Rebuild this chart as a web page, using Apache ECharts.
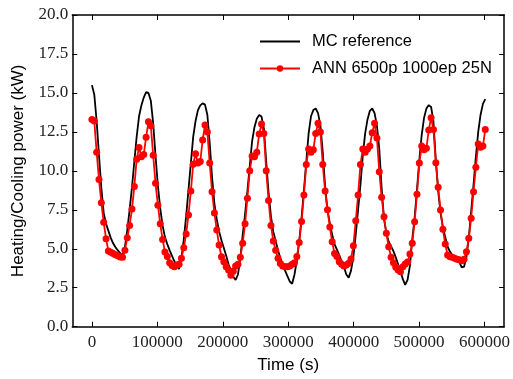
<!DOCTYPE html>
<html><head><meta charset="utf-8">
<script src="https://cdn.jsdelivr.net/npm/echarts@6/dist/echarts.min.js"></script>
<style>html,body{margin:0;padding:0;background:#fff}#c{width:513px;height:379px}</style>
</head><body><div id="c"></div>
<script>
// sampling step of both series (seconds)
const stepSeconds = 3600;

// MC reference (kW), hourly
const mcReference = [
  15.5, 14.9, 13.2, 11.0, 8.9, 7.3, 6.6, 6.15, 5.7, 5.35, 5.1, 4.9, 4.72, 4.58, 5.1, 6.2, 7.5, 8.95, 10.6, 12.2, 13.5, 14.2, 14.7, 15.05,
  15.0, 14.5, 13.06, 10.96, 9.06, 7.6, 6.5, 5.75, 5.3, 4.9, 4.55, 4.2, 3.9, 3.7, 4.4, 5.6, 7.1, 8.8, 10.5, 12.2, 13.2, 13.9, 14.2, 14.33,
  14.25, 13.6, 11.8, 9.6, 7.9, 6.9, 6.1, 5.55, 5.05, 4.55, 4.0, 3.6, 3.2, 3.0, 3.35, 4.4, 5.9, 7.2, 8.7, 10.3, 11.9, 12.8, 13.35, 13.58,
  13.48, 12.73, 10.6, 8.6, 7.1, 6.1, 5.5, 4.9, 4.39, 4.0, 3.6, 3.25, 2.9, 2.75, 3.35, 4.25, 5.5, 7.0, 8.75, 10.6, 12.4, 13.5, 13.9, 14.0,
  13.7, 12.9, 11.2, 9.0, 7.5, 6.65, 5.9, 5.3, 4.95, 4.6, 4.2, 3.85, 3.35, 3.15, 3.6, 4.5, 5.9, 7.5, 9.1, 11.0, 12.4, 13.3, 13.85, 14.0,
  13.7, 12.9, 11.4, 8.9, 6.9, 6.0, 5.45, 5.15, 4.85, 4.45, 4.0, 3.55, 3.05, 2.68, 3.0, 3.9, 5.6, 7.0, 8.8, 10.7, 12.3, 13.4, 14.0, 14.22,
  14.1, 13.15, 10.7, 8.7, 7.3, 6.4, 5.75, 5.13, 4.82, 4.6, 4.45, 4.3, 4.12, 3.8, 3.85, 4.5, 5.7, 7.4, 9.1, 10.9, 12.5, 13.6, 14.3, 14.6
];

// ANN prediction (kW), hourly
const annPrediction = [
  13.3, 13.2, 11.2, 9.45, 7.95, 6.7, 5.65, 4.85, 4.78, 4.7, 4.62, 4.55, 4.48, 4.45, 4.9, 5.7, 6.5, 7.55, 9.0, 10.75, 11.5, 10.9, 11.05, 12.15,
  13.15, 12.9, 11.0, 9.2, 7.8, 6.6, 5.6, 4.8, 4.5, 4.1, 3.92, 3.85, 3.96, 4.0, 4.4, 5.07, 5.95, 7.17, 8.71, 10.42, 11.1, 10.5, 10.6, 11.98,
  12.94, 12.5, 10.5, 8.66, 7.3, 6.2, 5.24, 4.49, 4.17, 3.85, 3.64, 3.3, 3.55, 3.9, 4.0, 4.45, 5.35, 6.6, 8.24, 10.0, 10.95, 10.9, 11.2, 12.36,
  13.0, 12.4, 10.0, 8.1, 6.5, 5.5, 4.9, 4.4, 4.05, 3.9, 3.85, 3.85, 3.9, 4.0, 4.1, 4.5, 5.4, 6.75, 8.45, 10.4, 11.4, 11.2, 11.35, 12.4,
  13.05, 12.5, 10.4, 8.7, 7.5, 6.4, 5.45, 4.7, 4.5, 4.17, 4.0, 3.9, 3.96, 4.07, 4.35, 5.2, 6.8, 8.45, 10.4, 11.4, 11.2, 11.4, 11.6, 12.45,
  13.05, 12.1, 9.95, 8.3, 7.06, 6.0, 5.13, 4.45, 4.11, 3.81, 3.64, 3.53, 3.85, 4.02, 4.15, 4.66, 5.35, 6.74, 8.5, 10.5, 11.6, 11.35, 11.45, 12.62,
  13.41, 12.66, 10.52, 8.94, 7.49, 6.25, 5.31, 4.6, 4.49, 4.45, 4.39, 4.32, 4.3, 4.23, 4.32, 4.81, 5.67, 6.96, 8.66, 10.23, 11.72, 11.51, 11.59, 12.66
];

const xTicks = [0, 100000, 200000, 300000, 400000, 500000, 600000];
const yTicks = [0, 2.5, 5, 7.5, 10, 12.5, 15, 17.5, 20];

const seriesNames = ['MC reference', 'ANN 6500p 1000ep 25N'];
const axisNames = { x: 'Time (s)', y: 'Heating/Cooling power (kW)' };

const toPairs = arr => arr.map((v, i) => [i * stepSeconds, v]);

const serif = 'Liberation Serif';
const sans = 'Liberation Sans';

const chart = echarts.init(document.getElementById('c'), null, { renderer: 'canvas' });

const tickStyle = { show: true, inside: true, length: 5, lineStyle: { color: '#000', width: 1 } };
const lineStyle = { show: true, onZero: false, lineStyle: { color: '#000', width: 1.5 } };

chart.setOption({
  animation: false,
  backgroundColor: '#fff',
  grid: { left: 72.3, top: 15, right: 5.5, bottom: 52.3, containLabel: false },
  legend: {
    data: [
      { name: seriesNames[0], icon: 'path://M0,0 L40,0 L40,2 L0,2 Z' },
      { name: seriesNames[1] }
    ],
    orient: 'vertical',
    left: 254,
    top: 28,
    itemWidth: 40,
    itemHeight: 8,
    itemGap: 10,
    symbolKeepAspect: true,
    textStyle: { fontFamily: sans, fontSize: 16.5, color: '#000', padding: [0, 0, 0, 7] }
  },
  xAxis: [
    {
      type: 'value', min: -30000, max: 630000, position: 'bottom',
      name: axisNames.x, nameLocation: 'middle', nameGap: 30,
      nameTextStyle: { fontFamily: sans, fontSize: 17, color: '#000' },
      axisLine: lineStyle,
      axisTick: Object.assign({}, tickStyle, { customValues: xTicks }),
      axisLabel: { customValues: xTicks, margin: 7, fontFamily: serif, fontSize: 17, color: '#222',
        formatter: v => String(v) },
      splitLine: { show: false }
    },
    {
      type: 'value', min: -30000, max: 630000, position: 'top',
      axisLine: lineStyle,
      axisTick: Object.assign({}, tickStyle, { customValues: xTicks }),
      axisLabel: { show: false },
      splitLine: { show: false }
    }
  ],
  yAxis: [
    {
      type: 'value', min: 0, max: 20, interval: 2.5, position: 'left',
      name: axisNames.y, nameLocation: 'middle', nameGap: 45, nameRotate: 90,
      nameTextStyle: { fontFamily: sans, fontSize: 17, color: '#000' },
      axisLine: lineStyle,
      axisTick: tickStyle,
      axisLabel: { margin: 4, fontFamily: serif, fontSize: 17, color: '#222',
        formatter: v => v.toFixed(1) },
      splitLine: { show: false }
    },
    {
      type: 'value', min: 0, max: 20, interval: 2.5, position: 'right',
      axisLine: lineStyle,
      axisTick: tickStyle,
      axisLabel: { show: false },
      splitLine: { show: false }
    }
  ],
  series: [
    {
      name: seriesNames[0], type: 'line', xAxisIndex: 0, yAxisIndex: 0,
      data: toPairs(mcReference),
      symbol: 'none', showSymbol: false,
      lineStyle: { color: '#000', width: 1.8 },
      itemStyle: { color: '#000' },
      z: 2
    },
    {
      name: seriesNames[1], type: 'line', xAxisIndex: 0, yAxisIndex: 0,
      data: toPairs(annPrediction),
      symbol: 'circle', symbolSize: 7, showSymbol: true,
      lineStyle: { color: '#ff0000', width: 1.8 },
      itemStyle: { color: '#ff0000' },
      z: 3
    }
  ]
});
</script>
</body></html>
